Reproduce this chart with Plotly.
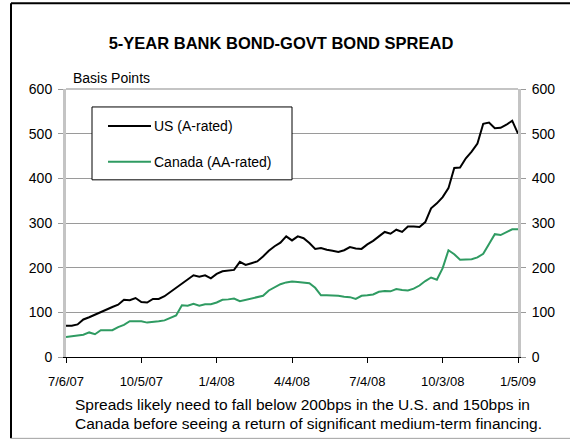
import plotly.graph_objects as go

# ---- data ----
tick_labels = ["7/6/07", "10/5/07", "1/4/08", "4/4/08", "7/4/08", "10/3/08", "1/5/09"]
tick_positions = [0, 13, 26, 39, 52, 65, 78]

us_a_rated = [70, 70, 73, 84, 89, 95, 100, 106, 112, 117,
              128, 127, 132, 123, 122, 130, 130, 136, 145, 155,
              163, 173, 183, 180, 183, 176, 186, 192, 194, 195,
              213, 206, 210, 214, 225, 238, 248, 256, 270, 261,
              270, 266, 255, 242, 244, 240, 238, 235, 239, 246,
              243, 242, 252, 260, 270, 280, 276, 285, 280, 292,
              292, 291, 302, 333, 344, 358, 378, 423, 424, 445,
              460, 478, 522, 525, 512, 513, 520, 529, 500]

canada_aa_rated = [45, 47, 48, 50, 55, 51, 60, 60, 60, 67,
                   72, 80, 80, 80, 77, 78, 80, 82, 87, 93,
                   116, 115, 119, 115, 118, 118, 122, 128, 129, 131,
                   125, 128, 132, 135, 137, 149, 156, 163, 167, 169,
                   168, 167, 165, 155, 138, 138, 138, 137, 135, 134,
                   130, 137, 138, 140, 146, 148, 147, 152, 150, 149,
                   153, 160, 170, 178, 173, 199, 239, 230, 218, 218,
                   219, 223, 231, 253, 275, 273, 280, 286, 286]

weeks = list(range(len(us_a_rated)))

W, H = 570, 440
L, R, T, B = 66, 518, 89, 357.5


def px(xp):
    return (xp - L) / (R - L)


def py(yp):
    return (B - yp) / (B - T)


FONT = "Liberation Sans, Arial, sans-serif"
US_COLOR = "#000000"
CA_COLOR = "#2f9b62"

fig = go.Figure()
fig.add_trace(go.Scatter(x=weeks, y=us_a_rated, mode="lines", name="US (A-rated)",
                         line=dict(color=US_COLOR, width=2), showlegend=False))
fig.add_trace(go.Scatter(x=weeks, y=canada_aa_rated, mode="lines", name="Canada (AA-rated)",
                         line=dict(color=CA_COLOR, width=2), showlegend=False))
fig.add_trace(go.Scatter(x=[None], y=[None], yaxis="y2", showlegend=False, hoverinfo="skip"))

fig.update_layout(
    width=W, height=H,
    margin=dict(l=L, r=W - R, t=T, b=H - B),
    paper_bgcolor="white", plot_bgcolor="white",
    font=dict(family=FONT, size=13, color="black"),
    title=dict(text="<b>5-YEAR BANK BOND-GOVT BOND SPREAD</b>",
               x=281 / W, y=1 - 43 / H, xref="container", yref="container",
               xanchor="center", yanchor="middle",
               font=dict(family=FONT, size=16.5, color="black")),
    xaxis=dict(range=[0, 78], tickvals=tick_positions, ticktext=tick_labels,
               showgrid=False, zeroline=False,
               showline=True, linecolor="black", linewidth=1,
               ticks="outside", ticklen=5, tickcolor="black", tickwidth=1,
               ticklabelstandoff=7,
               tickfont=dict(size=13)),
    yaxis=dict(range=[0, 600], dtick=100, tick0=0,
               showgrid=True, gridcolor="#9a9a9a", gridwidth=1,
               zeroline=False,
               showline=True, linecolor="#c4c4c4", linewidth=3,
               ticks="outside", ticklen=5, tickcolor="#9a9a9a",
               ticklabelstandoff=3,
               tickfont=dict(size=14)),
    yaxis2=dict(range=[0, 600], dtick=100, tick0=0, overlaying="y", side="right",
                showgrid=False, zeroline=False,
                showline=True, linecolor="#c4c4c4", linewidth=3,
                ticks="outside", ticklen=5, tickcolor="#9a9a9a",
                ticklabelstandoff=3,
                tickfont=dict(size=14)),
)

shapes = [
    # top border of plot area
    dict(type="line", xref="paper", yref="paper", x0=0, x1=1, y0=1, y1=1,
         line=dict(color="#c4c4c4", width=2), layer="above"),
    # outer frame
    dict(type="line", xref="paper", yref="paper", x0=px(11), x1=px(W + 10), y0=py(3), y1=py(3),
         line=dict(color="black", width=2)),
    dict(type="line", xref="paper", yref="paper", x0=px(11), x1=px(11), y0=py(3), y1=py(439),
         line=dict(color="black", width=2)),
    dict(type="line", xref="paper", yref="paper", x0=px(11), x1=px(W + 10), y0=py(439), y1=py(439),
         line=dict(color="#a0a0a0", width=1)),
    # legend box
    dict(type="rect", xref="paper", yref="paper", x0=px(92), x1=px(292), y0=py(107), y1=py(180),
         line=dict(color="black", width=1), fillcolor="white", layer="above"),
    dict(type="line", xref="paper", yref="paper", x0=px(108), x1=px(151), y0=py(126), y1=py(126),
         line=dict(color=US_COLOR, width=2), layer="above"),
    dict(type="line", xref="paper", yref="paper", x0=px(108), x1=px(151), y0=py(162), y1=py(162),
         line=dict(color=CA_COLOR, width=2), layer="above"),
]
fig.update_layout(shapes=shapes)

annotations = [
    dict(text="Basis Points", xref="paper", yref="paper", x=px(71), y=py(78),
         xanchor="left", yanchor="middle", showarrow=False, font=dict(size=14)),
    dict(text="US (A-rated)", xref="paper", yref="paper", x=px(152), y=py(126),
         xanchor="left", yanchor="middle", showarrow=False, font=dict(size=14)),
    dict(text="Canada (AA-rated)", xref="paper", yref="paper", x=px(152), y=py(162),
         xanchor="left", yanchor="middle", showarrow=False, font=dict(size=14)),
    dict(text="Spreads likely need to fall below 200bps in the U.S. and 150bps in",
         xref="paper", yref="paper", x=px(73), y=py(405),
         xanchor="left", yanchor="middle", showarrow=False, font=dict(size=15.5)),
    dict(text="Canada before seeing a return of significant medium-term financing.",
         xref="paper", yref="paper", x=px(73), y=py(424),
         xanchor="left", yanchor="middle", showarrow=False, font=dict(size=15.5)),
]
fig.update_layout(annotations=annotations)

fig.write_html("out.html")
